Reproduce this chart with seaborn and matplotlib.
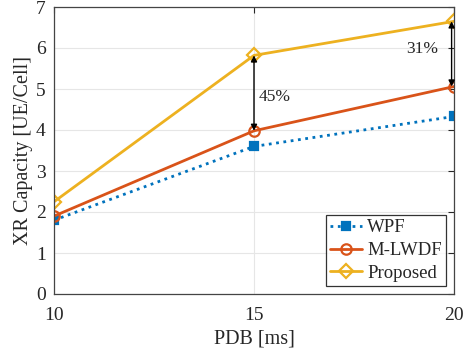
import matplotlib
matplotlib.use("Agg")
import matplotlib.pyplot as plt
import seaborn as sns
import pandas as pd

pdb = [10, 15, 20]
wpf = [1.80, 3.60, 4.33]
mlwdf = [1.90, 3.98, 5.06]
proposed = [2.25, 5.82, 6.65]
series_names = ["WPF", "M-LWDF", "Proposed"]
colors = ["#0072BD", "#D95319", "#EDB120"]
markers = ["s", "o", "D"]
styles = [":", "-", "-"]

sns.set_style("white")
plt.rcParams["font.family"] = ["Liberation Serif", "DejaVu Serif"]
plt.rcParams["mathtext.fontset"] = "stix"

df = pd.DataFrame({"PDB": pdb * 3,
                   "cap": wpf + mlwdf + proposed,
                   "scheme": sum([[n] * 3 for n in series_names], [])})

fig = plt.figure(figsize=(4.71, 3.54), dpi=100)
ax = fig.add_axes([54 / 471, 1 - 294 / 354, 400 / 471, 287 / 354])

for name, c, m, ls in zip(series_names, colors, markers, styles):
    sub = df[df.scheme == name]
    sns.lineplot(data=sub, x="PDB", y="cap", ax=ax, color=c, linestyle=ls,
                 linewidth=2.0, marker=m, markersize=7.5 if m != "s" else 6,
                 markerfacecolor="none" if m != "s" else c,
                 markeredgecolor=c, markeredgewidth=1.6, label=name)

ax.set_xlim(10, 20)
ax.set_ylim(0, 7)
ax.set_xticks([10, 15, 20])
ax.set_yticks(range(0, 8))
ax.grid(True, color="#e6e6e6", linewidth=0.8)
ax.set_axisbelow(True)
for s in ax.spines.values():
    s.set_color("#444444")
    s.set_linewidth(0.9)
ax.tick_params(direction="in", length=4, labelsize=14, colors="#262626",
               top=True, right=True)
ax.tick_params(axis="x", pad=9)
ax.tick_params(axis="y", pad=6)
ax.set_xlabel("PDB [ms]", fontsize=14.5, color="#262626", labelpad=4)
ax.set_ylabel("XR Capacity [UE/Cell]", fontsize=14.5, color="#262626", labelpad=2)

arrow = dict(arrowstyle="<|-|>", color="black", lw=1.0, mutation_scale=9,
             shrinkA=0, shrinkB=0)
ax.annotate("", xy=(15, proposed[1]), xytext=(15, mlwdf[1]), arrowprops=arrow)
ax.text(15.12, 4.8, "45%", fontsize=12.5, color="#262626", va="center", ha="left")
ax.annotate("", xy=(19.94, proposed[2]), xytext=(19.94, mlwdf[2]), arrowprops=arrow)
ax.text(19.6, 5.97, "31%", fontsize=12.5, color="#262626", va="center", ha="right")

leg = ax.legend(loc="lower right", fontsize=13.5, frameon=True, fancybox=False,
                edgecolor="black", borderpad=0.2, handlelength=1.7,
                handletextpad=0.3, labelspacing=0.3, borderaxespad=0.45)
leg.get_frame().set_linewidth(0.9)

fig.savefig("out.png", dpi=100)
